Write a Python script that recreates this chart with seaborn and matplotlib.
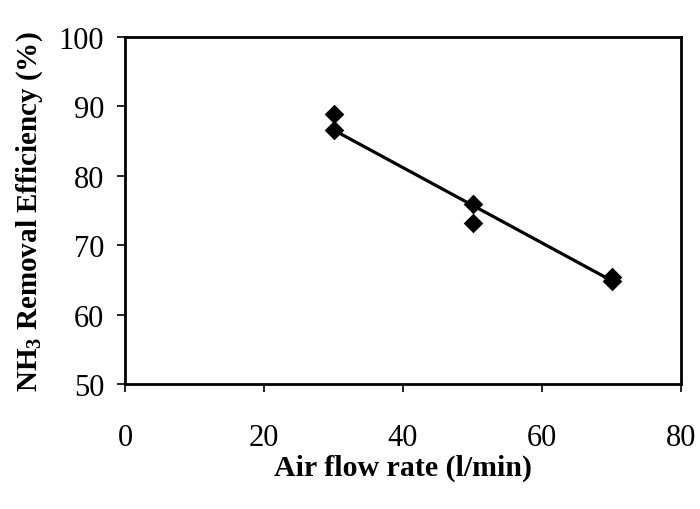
import matplotlib
matplotlib.use("Agg")
import matplotlib.pyplot as plt
import seaborn as sns
import pandas as pd

# Data
air_flow = [30, 30, 50, 50, 70, 70]
efficiency = [88.9, 86.6, 75.9, 73.2, 65.4, 64.9]
fit_x = [30, 70]
fit_y = [86.6, 64.9]
x_ticks = [0, 20, 40, 60, 80]
y_ticks = [50, 60, 70, 80, 90, 100]

sns.set_theme(style="white")
plt.rcParams["font.family"] = ["Liberation Serif", "DejaVu Serif"]
plt.rcParams["mathtext.fontset"] = "custom"
plt.rcParams["mathtext.rm"] = "Liberation Serif:bold"
plt.rcParams["mathtext.it"] = "Liberation Serif:bold"
plt.rcParams["mathtext.bf"] = "Liberation Serif:bold"
plt.rcParams["text.color"] = "black"
plt.rcParams["axes.labelcolor"] = "black"

fig = plt.figure(figsize=(7, 5.1), dpi=100)
ax = fig.add_axes([0.1786, 0.245, 0.7944, 0.6805])

pts = pd.DataFrame({"x": air_flow, "y": efficiency})
fit = pd.DataFrame({"x": fit_x, "y": fit_y})

sns.lineplot(data=fit, x="x", y="y", color="black", linewidth=2.3, ax=ax)
sns.scatterplot(data=pts, x="x", y="y", marker="D", s=100, color="black",
                edgecolor="black", linewidth=0, ax=ax, zorder=3)

ax.set_xlim(0, 80)
ax.set_ylim(50, 100)
ax.set_xticks(x_ticks)
ax.set_yticks(y_ticks)
ax.tick_params(axis="both", which="both", direction="out", length=6, width=1.2,
               colors="black", labelsize=22, bottom=True, left=True,
               top=False, right=False)
ax.tick_params(axis="x", pad=22)
ax.tick_params(axis="y", pad=9)

for s in ax.spines.values():
    s.set_visible(True)
    s.set_color("black")
    s.set_linewidth(2)

ax.set_xlabel("Air flow rate (l/min)", fontsize=21.5, fontweight="bold",
              color="black", labelpad=1)
ax.set_ylabel(r"NH$_3$ Removal Efficiency (%)", fontsize=21, fontweight="bold",
              color="black", labelpad=10)

fig.savefig("out.png", dpi=100, facecolor="white")
